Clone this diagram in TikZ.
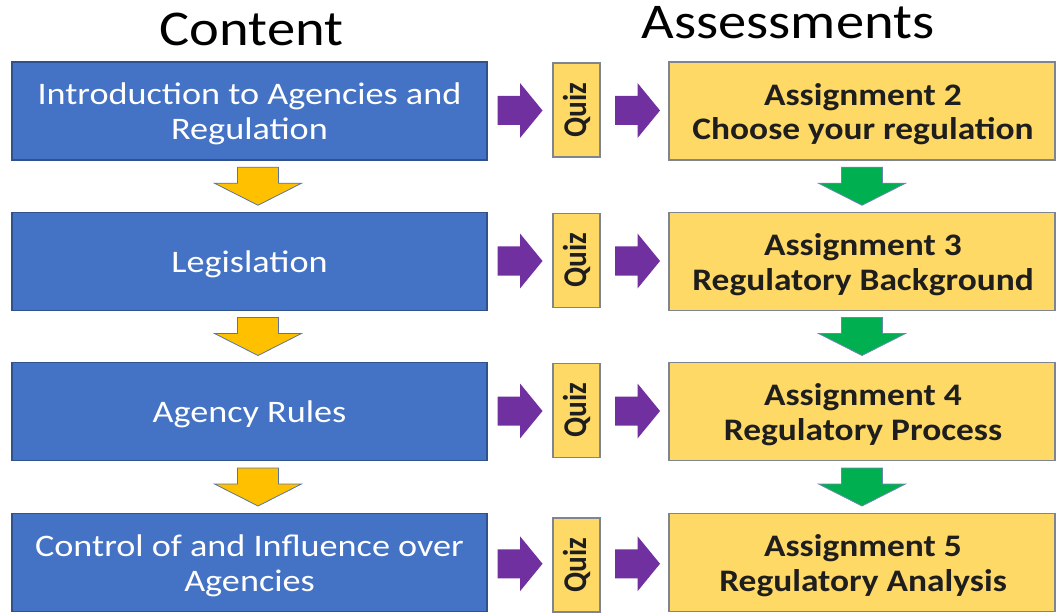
\documentclass[tikz,border=0pt]{standalone}
\usepackage{fontspec}
\setmainfont{Carlito}
\usetikzlibrary{calc}
\definecolor{cblue}{HTML}{4472C4}
\definecolor{cblueline}{HTML}{2F528F}
\definecolor{cyel}{HTML}{FFD966}
\definecolor{cyelline}{HTML}{7F8590}
\definecolor{corange}{HTML}{FFC000}
\definecolor{cgreen}{HTML}{00B050}
\definecolor{cpurple}{HTML}{7030A0}
\definecolor{ctext}{HTML}{1E1E1E}
\newcommand{\hstr}[1]{\scalebox{1.13}[1]{#1}}
\newcommand{\hstrb}[1]{\scalebox{1.155}[1]{#1}}
\begin{document}
\begin{tikzpicture}[x=0.75pt,y=-0.75pt,
  contentbox/.style={draw=cblueline,fill=cblue,line width=1.2pt,inner sep=0pt,
    minimum width=356.25pt,minimum height=73.5pt},
  contenttext/.style={text=white,align=center,inner sep=0pt,
    font=\fontsize{23.5pt}{26pt}\selectfont},
  quizbox/.style={draw=cyelline,fill=cyel,line width=1.2pt,inner sep=0pt,
    minimum width=35.25pt,minimum height=70.5pt,text=ctext,
    font=\bfseries\fontsize{22pt}{26pt}\selectfont},
  assignbox/.style={draw=cyelline,fill=cyel,line width=1.2pt,inner sep=0pt,
    minimum width=289.5pt,minimum height=73.5pt},
  assigntext/.style={text=ctext,align=center,inner sep=0pt,
    font=\bfseries\fontsize{23.5pt}{26pt}\selectfont},
  titletext/.style={font=\fontsize{37.5pt}{40pt}\selectfont,text=black,anchor=base,inner sep=0pt},
  darr/.pic={\path[pic actions] (-20.5,-19) -- (20.5,-19) -- (20.5,-3) -- (43.5,-3) -- (0,19) -- (-43.5,-3) -- (-20.5,-3) -- cycle;},
  rarr/.pic={\path[pic actions] (-22.5,-14.5) -- (0,-14.5) -- (0,-27.5) -- (22.5,0) -- (0,27.5) -- (0,14.5) -- (-22.5,14.5) -- cycle;},
  orangearrow/.style={fill=corange,draw=cblueline!80,line width=0.6pt},
  greenarrow/.style={fill=cgreen,draw=cblueline!70,line width=0.6pt},
  purplearrow/.style={fill=cpurple}
]
\fill[white] (0,0) rectangle (1057,613);
\useasboundingbox (0,0) rectangle (1057,613);

\node[titletext] (tc) at (251.5,46) {\hstr{Content}};
\node[titletext] (ta) at (788,39) {\hstr{Assessments}};

\node[contentbox] (b1) at (249.5,111) {};
\node[contentbox] (b2) at (249.5,261.5) {};
\node[contentbox] (b3) at (249.5,411.5) {};
\node[contentbox] (b4) at (249.5,562.5) {};
\node[contenttext] (b1t) at ($(b1.center)+(0,3)$) {\hstrb{Introduction to Agencies and}\\\hstrb{Regulation}};
\node[contenttext] (b2t) at ($(b2.center)+(0,3)$) {\hstrb{Legislation}};
\node[contenttext] (b3t) at ($(b3.center)+(0,3)$) {\hstrb{Agency Rules}};
\node[contenttext] (b4t) at ($(b4.center)+(0,3)$) {\hstrb{Control of and Influence over}\\\hstrb{Agencies}};

\foreach \i/\y in {1/110,2/260.5,3/410.5,4/565}{
  \node[quizbox] (q\i) at (576.5,\y) {\scalebox{1.13}[1]{\rotatebox{90}{Quiz}}};
}

\node[assignbox] (a1) at (862,111) {};
\node[assignbox] (a2) at (862,261.5) {};
\node[assignbox] (a3) at (862,411.5) {};
\node[assignbox] (a4) at (862,562.5) {};
\node[assigntext] (a1t) at ($(a1.center)+(1,3)$) {\hstr{Assignment 2}\\\hstr{Choose your regulation}};
\node[assigntext] (a2t) at ($(a2.center)+(1,3)$) {\hstr{Assignment 3}\\\hstr{Regulatory Background}};
\node[assigntext] (a3t) at ($(a3.center)+(1,3)$) {\hstr{Assignment 4}\\\hstr{Regulatory Process}};
\node[assigntext] (a4t) at ($(a4.center)+(1,3)$) {\hstr{Assignment 5}\\\hstr{Regulatory Analysis}};

\foreach \i/\j in {1/2,2/3,3/4}{
  \pic[orangearrow] at ($(b\i.south)!0.5!(b\j.north)+(8.5,0)$) {darr};
  \pic[greenarrow] at ($(a\i.south)!0.5!(a\j.north)$) {darr};
}
\foreach \i in {1,2,3,4}{
  \pic[purplearrow] at ($(b\i.east)!0.5!(q\i.west)$) {rarr};
  \pic[purplearrow] at ($(q\i.east)!0.5!(a\i.west)+(3,0)$) {rarr};
}
\end{tikzpicture}
\end{document}
